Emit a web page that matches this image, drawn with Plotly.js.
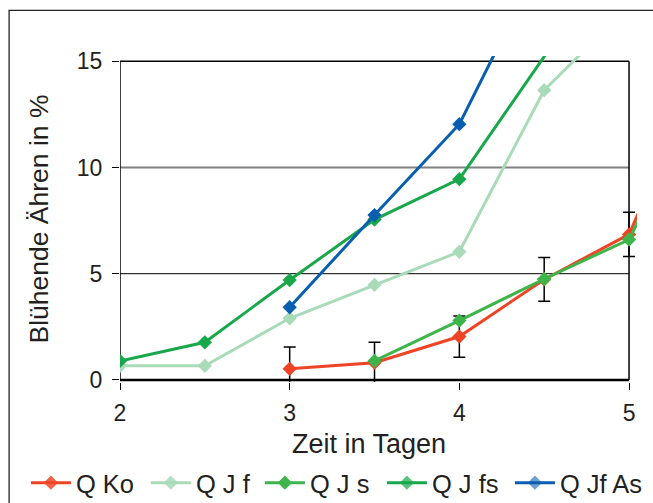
<!DOCTYPE html>
<html>
<head>
<meta charset="utf-8">
<script src="https://cdn.plot.ly/plotly-3.0.1.min.js"></script>
<style>
  html, body { margin: 0; padding: 0; background: #fff; }
  #chart { width: 653px; height: 503px; }
</style>
</head>
<body>
<div id="chart"></div>
<script>
// Data
const xKo = [3, 3.5, 4, 4.5, 5, 5.5];
const qKo = [0.52, 0.81, 2.04, 4.73, 6.85, 16.0];
const qKoErr = [1.03, 0.96, 0.97, 1.03, 1.04, 1.0];

const xJf = [2, 2.5, 3, 3.5, 4, 4.5, 5];
const qJf = [0.66, 0.66, 2.9, 4.47, 6.03, 13.64, 17.6];

const xJs = [3.5, 4, 4.5, 5, 5.5];
const qJs = [0.89, 2.79, 4.75, 6.61, 14.6];

const xJfs = [2, 2.5, 3, 3.5, 4, 4.5, 5];
const qJfs = [0.89, 1.77, 4.70, 7.55, 9.45, 15.3, 21.0];

const xJfAs = [3, 3.5, 4, 4.5, 5];
const qJfAs = [3.42, 7.76, 12.04, 20.0, 28.0];

const seriesNames = ["Q Ko", "Q J f", "Q J s", "Q J fs", "Q Jf As"];
const seriesColors = ["#ee4425", "#a9dbb8", "#3db54a", "#18a84b", "#0a5eb0"];
const legendWidths = [65, 59, 67, 73, 84];

const xTicks = [2, 3, 4, 5];
const yTicks = [0, 5, 10, 15];

const FONT = "Liberation Sans, Arial, sans-serif";
const TXT = "#231f20";
const Y_TOP = 15.25;

function mk(i, xs, ys, extra) {
  return Object.assign({
    type: "scatter", mode: "lines+markers", name: seriesNames[i],
    x: xs, y: ys,
    line: { color: seriesColors[i], width: 3 },
    marker: { symbol: "diamond", size: 11, color: seriesColors[i],
              opacity: ys.map(v => (v > 15.05 ? 0 : 1)) },
    legendwidth: legendWidths[i],
    cliponaxis: true
  }, extra || {});
}

const traces = [
  mk(0, xKo, qKo, { error_y: { type: "data", array: qKoErr, visible: true, color: "#000", thickness: 1.5, width: 6 } }),
  mk(1, xJf, qJf),
  mk(2, xJs, qJs),
  mk(3, xJfs, qJfs),
  mk(4, xJfAs, qJfAs)
];

const shapes = [
  { type: "line", xref: "x", yref: "y", x0: 2, x1: 5, y0: 5, y1: 5, line: { color: "#000", width: 1 }, layer: "below" },
  { type: "line", xref: "x", yref: "y", x0: 2, x1: 5, y0: 10, y1: 10, line: { color: "#808080", width: 2 }, layer: "below" },
  { type: "line", xref: "x", yref: "y", x0: 2, x1: 5, y0: 15, y1: 15, line: { color: "#000", width: 1.5 }, layer: "below" },
  { type: "line", xref: "x", yref: "y", x0: 2, x1: 2, y0: 0, y1: 15, line: { color: "#000", width: 1.5 }, layer: "below" },
  { type: "line", xref: "x", yref: "y", x0: 5, x1: 5, y0: 0, y1: 15, line: { color: "#000", width: 1.5 }, layer: "below" },
  { type: "line", xref: "x", yref: "y", x0: 2, x1: 5, y0: 0, y1: 0, line: { color: "#000", width: 2.5 }, layer: "below" },
  { type: "rect", xref: "paper", yref: "paper", x0: -0.2145, x1: 1.5, y0: -1.0, y1: 1.14, line: { color: "#222", width: 1.3 }, layer: "below" }
];

const layout = {
  width: 653, height: 503,
  margin: { l: 120, r: 16, t: 56, b: 121, autoexpand: false },
  paper_bgcolor: "#fff", plot_bgcolor: "rgba(0,0,0,0)",
  font: { family: FONT, color: TXT, size: 20 },
  showlegend: true,
  xaxis: {
    range: [2, 5.047], tickvals: xTicks, ticktext: xTicks.map(String),
    showgrid: false, zeroline: false, showline: false,
    ticks: "outside", ticklen: 7, tickcolor: "#000", tickwidth: 1,
    tickfont: { family: FONT, size: 23, color: TXT },
    ticklabelstandoff: 3
  },
  yaxis: {
    range: [-0.1, Y_TOP], tickvals: yTicks, ticktext: yTicks.map(String),
    showgrid: false, zeroline: false, showline: false,
    ticks: "outside", ticklen: 7, tickcolor: "#000", tickwidth: 1,
    tickfont: { family: FONT, size: 23, color: TXT },
    ticklabelstandoff: 5,
    title: { text: "Blühende Ähren in %", font: { family: FONT, size: 26.5, color: TXT }, standoff: 20 }
  },
  annotations: [
    { text: "Zeit in Tagen", xref: "paper", yref: "paper", x: 0.4807, y: -0.190,
      xanchor: "center", yanchor: "middle", showarrow: false,
      font: { family: FONT, size: 27, color: TXT } }
  ],
  legend: {
    orientation: "h", xref: "paper", yref: "paper",
    x: -0.182, y: -0.31, xanchor: "left", yanchor: "middle",
    font: { family: FONT, size: 25.5, color: TXT },
    bgcolor: "rgba(0,0,0,0)", itemwidth: 40, tracegroupgap: 0,
    entrywidthmode: "pixels"
  },
  shapes: shapes
};

Plotly.newPlot("chart", traces, layout, { displayModeBar: false, staticPlot: true });
</script>
</body>
</html>
